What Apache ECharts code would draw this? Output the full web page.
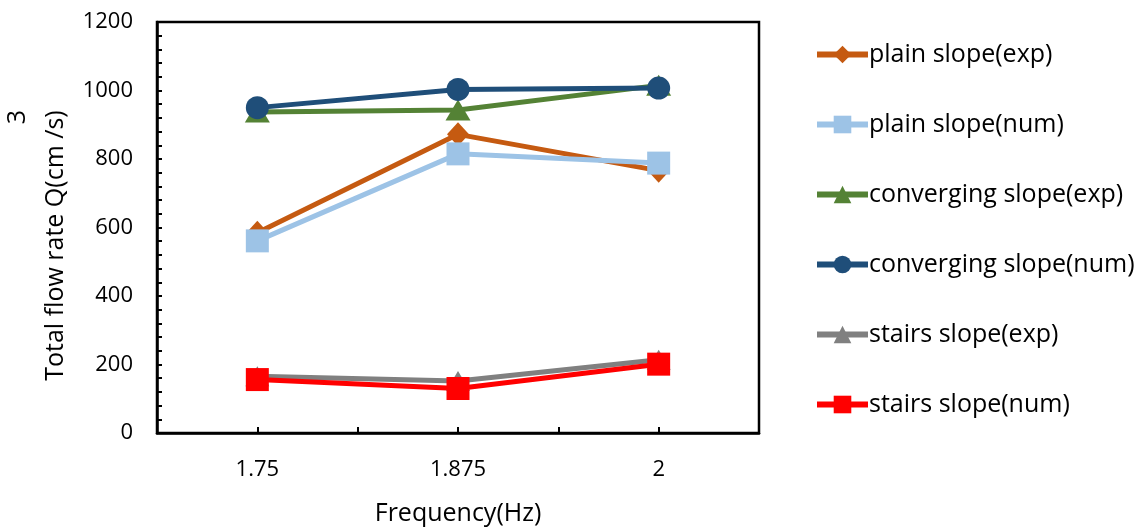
<!DOCTYPE html>
<html>
<head>
<meta charset="utf-8">
<script src="https://cdn.jsdelivr.net/npm/echarts@6/dist/echarts.min.js"></script>
<style>
  html, body { margin: 0; padding: 0; background: #fff; }
  #chart { width: 1145px; height: 531px; }
</style>
</head>
<body>
<div id="chart"></div>
<script>
// Forcing frequencies (Hz) and the tick labels shown on the x axis
const frequencies = [1.75, 1.875, 2];
const xTickLabels = ['1.75', '1.875', '2'];

// Total flow rate Q (cm^3/s) for each slope type
const plainExp = [585, 872, 766];
const plainNum = [561, 815, 788];
const convergingExp = [937, 943, 1015];
const convergingNum = [950, 1003, 1007];
const stairsExp = [166, 152, 214];
const stairsNum = [156, 130, 201];

const seriesNames = [
  'plain slope(exp)', 'plain slope(num)',
  'converging slope(exp)', 'converging slope(num)',
  'stairs slope(exp)', 'stairs slope(num)'
];
const seriesValues = [plainExp, plainNum, convergingExp, convergingNum, stairsExp, stairsNum];
const seriesColors = ['#C55A11', '#9DC3E6', '#548235', '#1F4E79', '#808080', '#FF0000'];
const seriesSymbols = ['diamond', 'rect', 'triangle', 'circle', 'triangle', 'rect'];
const symbolSizes = [[22, 24], 23, [25, 21], 23, [24, 20], 23];

const FONT = '"Open Sans", "Liberation Sans", sans-serif';

const chart = echarts.init(document.getElementById('chart'), null, { renderer: 'canvas' });

const series = seriesNames.map((name, i) => ({
  name,
  type: 'line',
  data: frequencies.map((f, j) => [f, seriesValues[i][j]]),
  symbol: seriesSymbols[i],
  symbolSize: symbolSizes[i],
  showSymbol: true,
  lineStyle: { color: seriesColors[i], width: 5 },
  itemStyle: { color: seriesColors[i], borderWidth: 0 },
  emphasis: { disabled: true },
  animation: false
}));

chart.setOption({
  animation: false,
  backgroundColor: '#fff',
  textStyle: { fontFamily: FONT, color: '#000' },
  grid: {
    left: 157, right: 386, top: 22, bottom: 94,
    show: true, borderColor: '#000', borderWidth: 2.5, backgroundColor: 'transparent'
  },
  legend: {
    orient: 'vertical',
    left: 809,
    top: 37,
    itemWidth: 51,
    itemHeight: 22,
    itemGap: 45,
    lineStyle: { width: 6 },
    textStyle: { fontFamily: FONT, fontSize: 25, color: '#000', padding: [0, 0, 0, -4] },
    data: seriesNames
  },
  xAxis: {
    type: 'value',
    min: 1.6875,
    max: 2.0625,
    interval: 0.0625,
    name: 'Frequency(Hz)',
    nameLocation: 'middle',
    nameGap: 68,
    nameTextStyle: { fontFamily: FONT, fontSize: 25, color: '#000' },
    axisLine: { show: true, lineStyle: { color: '#000', width: 2.5 } },
    axisTick: { show: true, inside: true, length: 6, lineStyle: { color: '#000', width: 2 } },
    splitLine: { show: false },
    axisLabel: {
      show: true,
      showMinLabel: true,
      showMaxLabel: true,
      margin: 26,
      fontFamily: FONT,
      fontSize: 22,
      color: '#000',
      formatter: (v) => {
        const idx = frequencies.findIndex(f => Math.abs(f - v) < 1e-9);
        return idx >= 0 ? xTickLabels[idx] : '';
      }
    }
  },
  yAxis: {
    type: 'value',
    min: 0,
    max: 1200,
    interval: 200,
    name: 'Total flow rate Q(cm /s)',
    nameLocation: 'middle',
    nameRotate: 90,
    nameGap: 89,
    nameTextStyle: { fontFamily: FONT, fontSize: 25, color: '#000', padding: [0, 36, 0, 0] },
    axisLine: { show: true, lineStyle: { color: '#000', width: 2.5 } },
    axisTick: { show: true, inside: true, length: 5, lineStyle: { color: '#000', width: 2 } },
    minorTick: { show: true, splitNumber: 5, length: 5, lineStyle: { color: '#000', width: 2 } },
    splitLine: { show: false },
    minorSplitLine: { show: false },
    axisLabel: {
      showMinLabel: true,
      showMaxLabel: true,
      margin: 24,
      fontFamily: FONT,
      fontSize: 22,
      color: '#000',
      formatter: (v) => String(v)
    }
  },
  graphic: [{
    type: 'text',
    x: 18,
    y: 117,
    rotation: Math.PI / 2,
    style: {
      text: '3',
      font: '25px ' + FONT,
      fill: '#000',
      align: 'center',
      verticalAlign: 'middle'
    }
  }],
  series
});
</script>
</body>
</html>
